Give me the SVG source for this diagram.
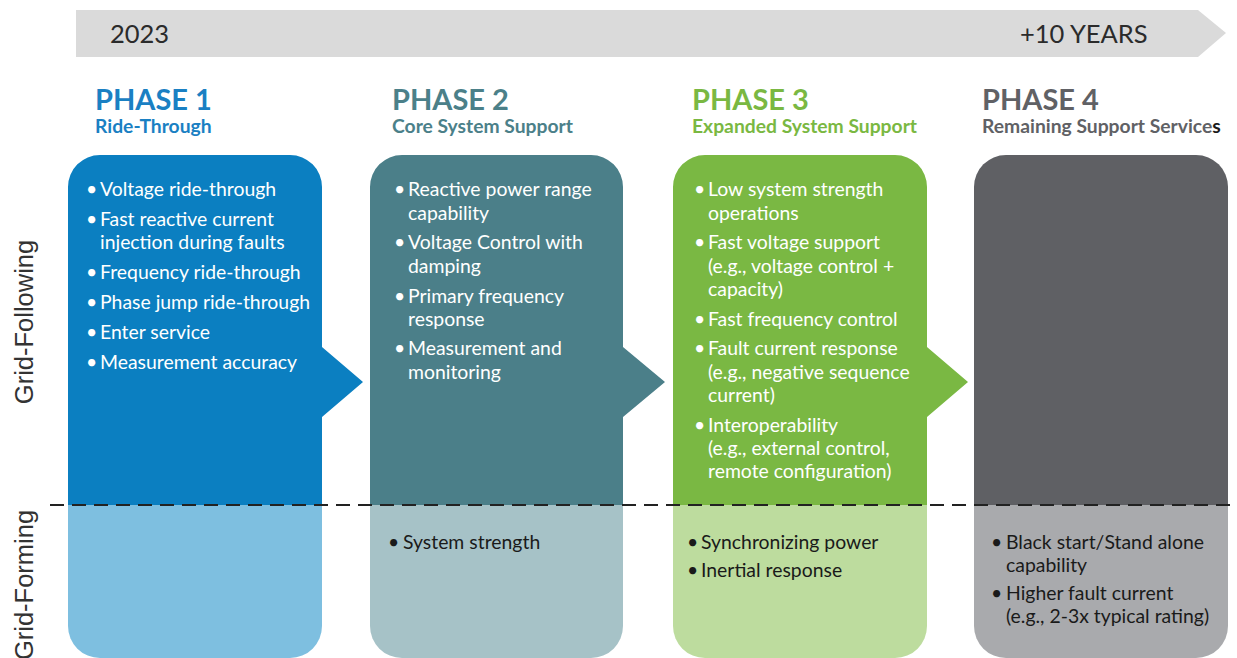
<svg xmlns="http://www.w3.org/2000/svg" width="1237" height="658" viewBox="0 0 1237 658">
<style>
.yr{font-family:Lato,"Liberation Sans",sans-serif;font-size:25.5px;fill:#2b2b2b}
.ph{font-family:Lato,"Liberation Sans",sans-serif;font-size:29px;font-weight:bold}
.sub{font-family:Lato,"Liberation Sans",sans-serif;font-size:19.3px;font-weight:bold}
.wt{font-family:Lato,"Liberation Sans",sans-serif;font-size:19.4px;fill:#ffffff}
.dk{font-family:Lato,"Liberation Sans",sans-serif;font-size:19.4px;fill:#1a1a1a}
.side{font-family:"Liberation Sans",Arial,sans-serif;font-size:25.5px;fill:#333333}
</style>
<rect width="1237" height="658" fill="#ffffff"/>
<g id="timeline">
<polygon points="76,10 1198,10 1226,33 1198,57 76,57" fill="#dadada"/>
<text class="yr" x="110" y="43">2023</text>
<text class="yr" x="1020" y="43">+10 YEARS</text>
</g>
<g id="side-labels">
<text class="side" transform="translate(33,322) rotate(-90)" text-anchor="middle">Grid-Following</text>
<text class="side" transform="translate(33,585) rotate(-90)" text-anchor="middle">Grid-Forming</text>
</g>
<g id="phase1">
<text class="ph" x="95" y="110" fill="#1a80c3">PHASE 1</text>
<text class="sub" x="95" y="133" fill="#1a80c3">Ride-Through</text>
<path d="M68,505 V187 A32,32 0 0 1 100,155 H290 A32,32 0 0 1 322,187 V347 L363,382 L322,417 V505 Z" fill="#0b7fc1"/>
<path d="M68,505 H322 V626 A32,32 0 0 1 290,658 H100 A32,32 0 0 1 68,626 Z" fill="#7ebfe0"/>
<g class="wt">
<text x="86" y="196">•</text><text x="100" y="196">Voltage ride-through</text>
<text x="86" y="226">•</text><text x="100" y="226">Fast reactive current</text>
<text x="100" y="249">injection during faults</text>
<text x="86" y="279">•</text><text x="100" y="279">Frequency ride-through</text>
<text x="86" y="309">•</text><text x="100" y="309">Phase jump ride-through</text>
<text x="86" y="339">•</text><text x="100" y="339">Enter service</text>
<text x="86" y="369">•</text><text x="100" y="369">Measurement accuracy</text>
</g>
</g>
<g id="phase2">
<text class="ph" x="392" y="110" fill="#4b8089">PHASE 2</text>
<text class="sub" x="392" y="133" fill="#4b8089">Core System Support</text>
<path d="M370,505 V187 A32,32 0 0 1 402,155 H591 A32,32 0 0 1 623,187 V347 L665,382 L623,417 V505 Z" fill="#4b7f89"/>
<path d="M370,505 H623 V626 A32,32 0 0 1 591,658 H402 A32,32 0 0 1 370,626 Z" fill="#a6c2c7"/>
<g class="wt">
<text x="394" y="196">•</text><text x="408" y="196">Reactive power range</text>
<text x="408" y="220">capability</text>
<text x="394" y="249">•</text><text x="408" y="249">Voltage Control with</text>
<text x="408" y="273">damping</text>
<text x="394" y="303">•</text><text x="408" y="303">Primary frequency</text>
<text x="408" y="326">response</text>
<text x="394" y="355">•</text><text x="408" y="355">Measurement and</text>
<text x="408" y="379">monitoring</text>
</g>
<g class="dk">
<text x="388" y="549">•</text><text x="403" y="549">System strength</text>
</g>
</g>
<g id="phase3">
<text class="ph" x="692" y="110" fill="#7ab842">PHASE 3</text>
<text class="sub" x="692" y="133" fill="#7ab842">Expanded System Support</text>
<path d="M673,505 V187 A32,32 0 0 1 705,155 H895 A32,32 0 0 1 927,187 V347 L968,382 L927,417 V505 Z" fill="#7ab843"/>
<path d="M673,505 H927 V626 A32,32 0 0 1 895,658 H705 A32,32 0 0 1 673,626 Z" fill="#bddc9e"/>
<g class="wt">
<text x="694" y="196">•</text><text x="708" y="196">Low system strength</text>
<text x="708" y="220">operations</text>
<text x="694" y="249">•</text><text x="708" y="249">Fast voltage support</text>
<text x="708" y="273">(e.g., voltage control +</text>
<text x="708" y="296">capacity)</text>
<text x="694" y="326">•</text><text x="708" y="326">Fast frequency control</text>
<text x="694" y="355">•</text><text x="708" y="355">Fault current response</text>
<text x="708" y="379">(e.g., negative sequence</text>
<text x="708" y="402">current)</text>
<text x="694" y="432">•</text><text x="708" y="432">Interoperability</text>
<text x="708" y="455">(e.g., external control,</text>
<text x="708" y="478">remote configuration)</text>
</g>
<g class="dk">
<text x="687" y="549">•</text><text x="701" y="549">Synchronizing power</text>
<text x="687" y="577">•</text><text x="701" y="577">Inertial response</text>
</g>
</g>
<g id="phase4">
<text class="ph" x="982" y="110" fill="#606165">PHASE 4</text>
<text class="sub" x="982" y="133" fill="#606165">Remaining Support Service<tspan fill="#1a1a1a">s</tspan></text>
<path d="M974,505 V187 A32,32 0 0 1 1006,155 H1196 A32,32 0 0 1 1228,187 V505 Z" fill="#5f6064"/>
<path d="M974,505 H1228 V626 A32,32 0 0 1 1196,658 H1006 A32,32 0 0 1 974,626 Z" fill="#a9aaad"/>
<g class="dk">
<text x="991" y="549">•</text><text x="1006" y="549">Black start/Stand alone</text>
<text x="1006" y="572">capability</text>
<text x="991" y="600">•</text><text x="1006" y="600">Higher fault current</text>
<text x="1006" y="623">(e.g., 2-3x typical rating)</text>
</g>
</g>
<g id="divider">
<line x1="50" y1="505" x2="1237" y2="505" stroke="#222222" stroke-width="2" stroke-dasharray="14 8"/>
</g>
</svg>
